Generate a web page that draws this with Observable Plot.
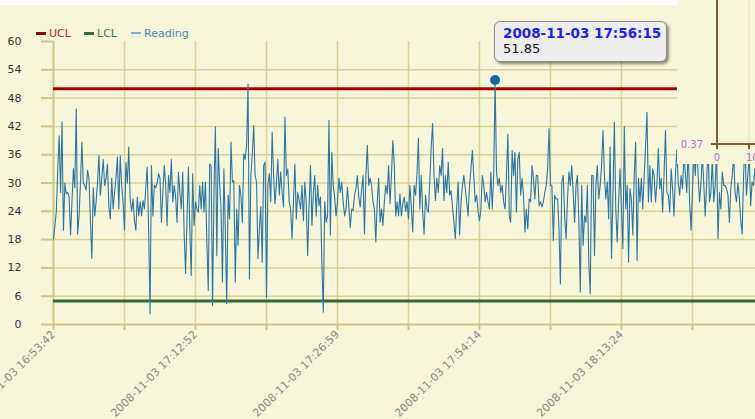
<!DOCTYPE html>
<html>
<head>
<meta charset="utf-8">
<script src="https://cdn.jsdelivr.net/npm/d3@7"></script>
<script src="https://cdn.jsdelivr.net/npm/@observablehq/plot@0.6"></script>
<style>
  html, body { margin: 0; padding: 0; }
  body { width: 755px; height: 419px; overflow: hidden; position: relative; background: #f8f6d8; font-family: "DejaVu Sans", Verdana, sans-serif; }
  #chart { position: absolute; left: 0; top: 0; }
  #topstrip { position: absolute; left: 0; top: 0; width: 677px; height: 5px; background: #ffffff; }
  #legend { position: absolute; left: 36px; top: 27px; font-size: 11px; white-space: nowrap; }
  #legend span.item { position: absolute; top: 0; }
  #legend i { display: inline-block; width: 10px; vertical-align: middle; margin-right: 3px; position: relative; top: -1px; }
  #tooltip { position: absolute; left: 494px; top: 21px; width: 173px; height: 41px; box-sizing: border-box; border: 1.5px solid #8c8c8c; border-radius: 6px; background: #eeeeee; box-shadow: 2px 2px 3px rgba(0,0,0,0.45); padding: 4px 0 0 8px; line-height: 15px; }
  #tooltip .t { font-weight: bold; color: #1e1ef5; font-size: 13.5px; }
  #tooltip .v { color: #111; font-size: 13px; }
  #inset { position: absolute; left: 677px; top: 0; width: 78px; height: 164px; background: #f8f6d8; }
</style>
</head>
<body>
<div id="chart"></div>
<div id="topstrip"></div>
<div id="legend"></div>
<div id="inset"></div>
<div id="tooltip"></div>
<script>
// ---- data ----
const readings = [
  18.2,21,24,33,40,28,43,20,30,27.7,
  28,27,19,26,33,29,45.7,19.2,23,30,
  38.7,30,29.5,28.5,32.7,31,22,14,29,23,
  26,30,35.8,27.4,31,35,29.5,31,34,25,
  22.4,31,24.5,28,31,35.5,24.5,35.8,29.5,26,
  20,34.4,30,37.6,26.6,24,26.6,22,20,27,
  23,26,23,26.3,24.5,29,33.4,20.3,2.3,33.7,
  23,29.5,29,30,32,31,21.7,28,33.7,29.5,
  21,31.6,28,
  35,26,29.5,27,21.7,32.3,28,24.5,32.3,19.6,
  10.8,22,33.4,20,10.4,32,21,26,24.5,23.8,
  29.5,24.5,30.2,23.8,30.2,17.5,7.2,34,33.7,4,
  28,41.9,14.6,37.3,30,24.5,9,33,20,4.4,
  27.4,22.4,38.7,30.2,30.5,9,24.5,16.8,29.5,27.4,
  21.7,36.2,35,38,51,9.7,31.6,36,42.2,31.6,
  30.2,14,20.3,25,13.2,33.7,34.4,5.8,29.5,32,
  26,40.8,31.6,25.6,30,35,27.4,32.3,28,24.9,44,31.6,33,
  26,24.5,18.2,26,34,22.4,28,26.3,24.5,29.5,
  22,30.2,26,14.6,25.2,33.7,21,28,31.6,23,
  29.5,25.2,27,13.2,2.6,26,21.7,23,43.3,19,36.5,
  29.5,27,23,26,31,28,30.2,26,23,24.5,
  29.1,25,20.6,24.5,24.2,27.4,28.8,31.6,27,24.9,
  28.8,31.6,19.2,31.6,38,29.5,31,29.5,26,24.5,
  17.5,26,31,21.7,24.5,21,26,29.5,27.7,33.7,
  25.6,31.6,39,33.7,23,26,23,27.7,23,25.6,27,24,
  26,22.4,29.5,25,19.6,29.5,27.4,32,39.4,24.5,
  31.6,23.8,19.2,27.4,24.5,23.8,30,37.6,42.6,31.6,
  26.3,31,28,33.7,31.6,37.3,26.3,31.6,28,34.4,
  27.4,28.4,25,21.7,18.2,25,30.2,19,26,29.5,
  31.6,28.8,26,23,29.5,33,36.9,31.6,26,27.4,
  24,22,24.5,31.6,29.5,26,28,26,24.5,32.3,24.5,31.6,
  51.85,
  32.3,29.5,31,28,29.5,26,24.5,31.6,40.4,23,
  21.7,36.9,31.6,36.5,23.8,35,36.5,27.4,31,
  27.4,19.6,24.5,20.3,26.6,26,33.7,31,26.6,31.6,
  31.6,25.2,26,24.9,26,28,29.5,33,41.5,29.5,
  29.5,17.8,27.4,26.6,26.6,20.3,8.6,30.2,31.6,23,
  18.2,26.6,32.3,29.5,33.7,28,21.7,29.5,31.6,21.7,
  6.9,29.5,16.8,23,21.7,29.5,13.2,6.5,31.6,31.6,
  14.6,29.5,33.7,26.6,29.5,33.7,41.1,31.6,26.6,30.2,
  22.4,37.6,14,27.4,42.9,24.5,17.5,26,33,24.5,
  16.1,41.9,24.5,29.5,13.2,28.8,26.6,19,31.6,38.7,13.6,
  31,26,
  31,24.5,31.6,38,45,26,33.7,26,33,31.6,
  26,30,37.3,28.8,31,23.8,32,41.1,28,27.4,23.8,33,
  28.8,23,31.6,37,30,27.4,31.6,28.8,36,32,
  28,38,26,20,28,37,31.6,39,31.6,26,
  30,36,29.5,23,30,38,26,28,35,26,
  29.5,37,18.2,28,24.5,32.3,29.5,29.5,28.8,27.4,
  21.7,28.8,31.6,36,28,26,30,27,22,19.2,
  31.6,38,27.4,31.6,36,25.2,30.2,29.5,33,28
];
const ucl = 50;
const lcl = 5;
const tickIndex = [0, 100, 200, 300, 400];
const tickLabels = ["2008-11-03 16:53:42", "2008-11-03 17:12:52", "2008-11-03 17:26:59", "2008-11-03 17:54:14", "2008-11-03 18:13:24"];
const minorTicks = [0, 50, 100, 150, 200, 250, 300, 350, 400, 450];
const yTicks = [0, 6, 12, 18, 24, 30, 36, 42, 48, 54, 60];
const highlightTime = "2008-11-03 17:56:15";
const highlightValue = 51.85;
const seriesNames = ["UCL", "LCL", "Reading"];
const seriesColors = ["#a80000", "#336a33", "#2a76a8"];
const legendText = ["#b0282a", "#3d7a3d", "#4a8ab4"];
const insetYLabel = "0.37";
const insetXLabels = ["0", "10"];

const data = readings.map((v, i) => ({i, v}));
const hi = data.find(d => d.v === highlightValue);
const labelMap = new Map(tickIndex.map((t, k) => [t, tickLabels[k]]));

const grid = "#d8d196";
const axisC = "#cfc684";

const chart = Plot.plot({
  width: 755,
  height: 419,
  marginLeft: 53,
  marginRight: 0,
  marginTop: 41,
  marginBottom: 95,
  style: {background: "transparent", fontFamily: "DejaVu Sans, Verdana, sans-serif", overflow: "visible"},
  x: {domain: [0, 494.4], axis: null},
  y: {domain: [0, 60], axis: null},
  marks: [
    Plot.gridY({ticks: yTicks.filter(t => t > 0 && t < 60), stroke: grid, strokeOpacity: 1, strokeWidth: 1.5}),
    Plot.gridX({ticks: minorTicks.filter(t => t > 0), stroke: grid, strokeOpacity: 1, strokeWidth: 1.5}),
    Plot.axisY({ticks: yTicks, label: null, tickSize: 12, tickPadding: 20, stroke: axisC, strokeWidth: 2, fill: "#333", fontSize: 11, textAnchor: "end"}),
    Plot.axisX({ticks: minorTicks, label: null, tickSize: 6, tickPadding: 2, stroke: axisC, strokeWidth: 2, tickFormat: d => labelMap.get(d) ?? "", tickRotate: -45, textAnchor: "end", fill: "#8a8a8a", fontSize: 11}),
    Plot.ruleY([0], {stroke: axisC, strokeWidth: 2}),
    Plot.ruleX([0], {stroke: axisC, strokeWidth: 2}),
    Plot.ruleY([ucl], {stroke: seriesColors[0], strokeWidth: 3}),
    Plot.ruleY([lcl], {stroke: seriesColors[1], strokeWidth: 3}),
    Plot.line(data, {x: "i", y: "v", stroke: seriesColors[2], strokeWidth: 1.1, clip: true}),
    Plot.dot([hi], {x: "i", y: "v", r: 5, fill: "#15679e", stroke: "none"})
  ]
});
document.getElementById("chart").appendChild(chart);

// legend
const legend = document.getElementById("legend");
const lx = [0, 48, 95];
seriesNames.forEach((n, k) => {
  const s = document.createElement("span");
  s.className = "item";
  s.style.left = lx[k] + "px";
  s.style.color = legendText[k];
  const sw = document.createElement("i");
  sw.style.height = k === 2 ? "2px" : "3px";
  sw.style.background = k === 2 ? "#7fb0cf" : seriesColors[k];
  s.appendChild(sw);
  s.appendChild(document.createTextNode(n));
  legend.appendChild(s);
});

// tooltip
const tip = document.getElementById("tooltip");
tip.innerHTML = `<div class="t">${highlightTime}</div><div class="v">${highlightValue}</div>`;

// inset artifact (top-right)
const inset = d3.select("#inset").append("svg").attr("width", 78).attr("height", 164);
const brown = "#8a5a2c";
inset.append("line").attr("x1", 72).attr("x2", 72).attr("y1", 0).attr("y2", 164).attr("stroke", "#e3ddb0").attr("stroke-width", 1);
inset.append("line").attr("x1", 40).attr("x2", 40).attr("y1", 0).attr("y2", 145).attr("stroke", brown).attr("stroke-width", 2);
inset.append("line").attr("x1", 34).attr("x2", 78).attr("y1", 144).attr("y2", 144).attr("stroke", brown).attr("stroke-width", 2);
inset.append("line").attr("x1", 40).attr("x2", 40).attr("y1", 144).attr("y2", 149).attr("stroke", brown).attr("stroke-width", 2);
inset.append("line").attr("x1", 72).attr("x2", 72).attr("y1", 144).attr("y2", 149).attr("stroke", brown).attr("stroke-width", 2);
inset.append("text").text(insetYLabel).attr("x", 26).attr("y", 148).attr("text-anchor", "end").attr("fill", "#c06ad2").attr("font-size", 10).attr("font-family", "DejaVu Sans, Verdana, sans-serif");
inset.append("text").text(insetXLabels[0]).attr("x", 40).attr("y", 161).attr("text-anchor", "middle").attr("fill", "#c06ad2").attr("font-size", 10).attr("font-family", "DejaVu Sans, Verdana, sans-serif");
inset.append("text").text(insetXLabels[1]).attr("x", 69).attr("y", 161).attr("text-anchor", "start").attr("fill", "#c06ad2").attr("font-size", 10).attr("font-family", "DejaVu Sans, Verdana, sans-serif");
</script>
</body>
</html>
